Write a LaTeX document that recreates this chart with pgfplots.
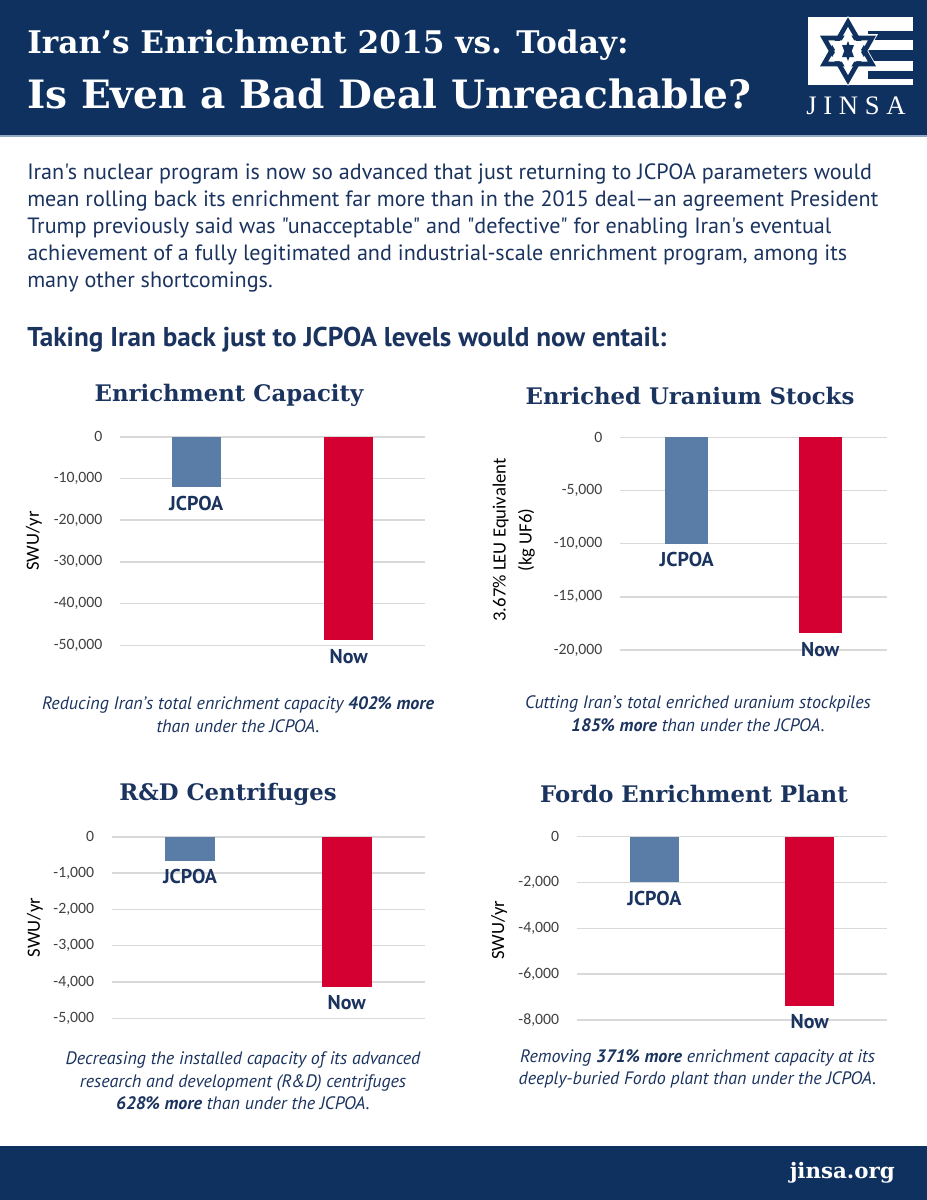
\documentclass[border=0pt]{standalone}
\usepackage{fontspec}
\setmainfont{PT Sans}
\newfontfamily\plainfont[Ligatures=TeXOff]{PT Sans}
\newfontfamily\slab{DejaVu Serif}
\newfontfamily\carlito{Carlito}
\newfontfamily\logofont[LetterSpace=25]{Liberation Serif}
\usepackage{pgfplots}
\pgfplotsset{compat=1.18}

\definecolor{navy}{HTML}{0F3160}
\definecolor{lineblue}{HTML}{8FA8C8}
\definecolor{textnavy}{HTML}{1B335F}
\definecolor{jblue}{HTML}{5A7DA8}
\definecolor{jred}{HTML}{D50032}
\definecolor{gridgray}{HTML}{D9D9D9}
\definecolor{ticktext}{HTML}{404040}

\pgfplotsset{
  jchart/.style={
    scale only axis,
    anchor=south west,
    ybar, bar shift=0pt,
    clip=false,
    xmin=-0.5, xmax=1.5, ymax=0,
    xtick=\empty,
    axis line style={draw=none},
    major tick length=0pt,
    ymajorgrids,
    grid style={gridgray, line width=1.2pt},
    scaled y ticks=false,
    yticklabel style={font=\carlito\fontsize{11.8}{12}\selectfont,
      text=ticktext, inner sep=0pt, anchor=east, xshift=-13pt},
    /pgf/number format/1000 sep={,},
    /pgf/number format/assume math mode=true,
    ylabel style={font=\carlito\fontsize{14}{19.5}\selectfont, text=black,
      anchor=center, align=center},
    every node near coord/.append style={font=\bfseries\fontsize{15}{17}\selectfont,
      text=textnavy, inner sep=0pt, yshift=-6.4pt},
  },
  jcpoa/.style={fill=jblue, draw=none, nodes near coords={JCPOA}},
  now/.style={fill=jred, draw=none, nodes near coords={Now}},
}

\begin{document}
\begin{tikzpicture}[x=0.75pt, y=-0.75pt]
\useasboundingbox (0,0) rectangle (927,1200);
\fill[white] (0,0) rectangle (927,1200);

% header
\fill[navy] (0,0) rectangle (927,135);
\fill[lineblue] (0,135) rectangle (927,137);
\node[anchor=base west, inner sep=0, text=white, font=\slab\bfseries\fontsize{23.4}{28}\selectfont]
  at (27,53) {Iran’s Enrichment 2015 vs. Today:};
\node[anchor=base west, inner sep=0, text=white, font=\slab\bfseries\fontsize{29.3}{34}\selectfont]
  at (27,108) {Is Even a Bad Deal Unreachable?};

% logo
\fill[white] (808,17) rectangle (913,85);
\fill[navy] (868,31) rectangle (913,40);
\fill[navy] (868,50) rectangle (913,61);
\fill[navy] (868,71) rectangle (913,79);
\fill[white] (848,16) -- (878,68) -- (818,68) -- cycle;
\fill[white] (848,86) -- (878,34) -- (818,34) -- cycle;
\draw[navy, line width=3.5pt, line join=miter] (848,22) -- (872,64) -- (824,64) -- cycle;
\draw[navy, line width=3.5pt, line join=miter] (848,80) -- (872,38) -- (824,38) -- cycle;
\fill[white] (848,30) -- (866,61) -- (830,61) -- cycle;
\fill[white] (848,72) -- (866,41) -- (830,41) -- cycle;
\fill[navy] (848,41) -- (854,57) -- (842,57) -- cycle;
\fill[navy] (848,61) -- (854,45) -- (842,45) -- cycle;
\node[anchor=base west, inner sep=0, text=white, font=\logofont\fontsize{20}{22}\selectfont]
  at (806,114) {JINSA};

% intro
\begin{scope}[every node/.style={anchor=base west, inner sep=0, text=textnavy,
    font=\plainfont\fontsize{16.6}{20}\selectfont}]
\node at (27,179) {Iran's nuclear program is now so advanced that just returning to JCPOA parameters would};
\node at (27,206) {mean rolling back its enrichment far more than in the 2015 deal—an agreement President};
\node at (27,233) {Trump previously said was "unacceptable" and "defective" for enabling Iran's eventual};
\node at (27,260) {achievement of a fully legitimated and industrial-scale enrichment program, among its};
\node at (27,287) {many other shortcomings.};
\end{scope}
\node[anchor=base west, inner sep=0, text=textnavy, font=\bfseries\fontsize{20.4}{24}\selectfont]
  at (27,346) {Taking Iran back just to JCPOA levels would now entail:};

% chart titles
\begin{scope}[every node/.style={inner sep=0, text=textnavy,
    font=\slab\bfseries\fontsize{17.1}{20}\selectfont}]
\node at (229,395) {Enrichment Capacity};
\node at (690,396) {Enriched Uranium Stocks};
\node at (228,794) {R\&D Centrifuges};
\node at (694,794) {Fordo Enrichment Plant};
\end{scope}

% captions
\begin{scope}[every node/.style={inner sep=0, text=textnavy, align=center,
    font=\itshape\fontsize{13.5}{17}\selectfont}]
\node at (238,714.5) {Reducing Iran’s total enrichment capacity \textbf{402\% more}\\than under the JCPOA.};
\node at (698,714) {Cutting Iran’s total enriched uranium stockpiles\\\textbf{185\% more} than under the JCPOA.};
\node at (243,1081) {Decreasing the installed capacity of its advanced\\research and development (R\&D) centrifuges\\\textbf{628\% more} than under the JCPOA.};
\node at (697.5,1069) {Removing \textbf{371\% more} enrichment capacity at its\\deeply-buried Fordo plant than under the JCPOA.};
\end{scope}

% footer
\fill[navy] (0,1146) rectangle (927,1200);
\node[anchor=base east, inner sep=0, text=white, font=\slab\bfseries\fontsize{16}{20}\selectfont]
  at (895,1178) {jinsa.org};

% charts (positions in pt: 1px = 0.75pt)
\begin{axis}[jchart, at={(90pt,-483.975pt)}, width=228.75pt, height=156.45pt,
    ymin=-50000, ytick={-50000,-40000,...,0}, bar width=36.45pt,
    ylabel={SWU/yr}, ylabel style={at={(axis description cs:-0.282,0.5)}}]
  \addplot[jcpoa] coordinates {(0,-12140)};
  \addplot[now] coordinates {(1,-48800)};
\end{axis}

\begin{axis}[jchart, at={(465pt,-487.5pt)}, width=200.25pt, height=159.5pt,
    ymin=-20000, ytick={-20000,-15000,...,0}, bar width=32pt,
    ylabel={3.67\% LEU Equivalent\\(kg UF6)}, ylabel style={at={(axis description cs:-0.398,0.517)}}]
  \addplot[jcpoa] coordinates {(0,-10000)};
  \addplot[now] coordinates {(1,-18430)};
\end{axis}

\begin{axis}[jchart, at={(83.775pt,-763.725pt)}, width=235pt, height=136.2pt,
    ymin=-5000, ytick={-5000,-4000,...,0}, bar width=37.5pt,
    ylabel={SWU/yr}, ylabel style={at={(axis description cs:-0.245,0.5)}}]
  \addplot[jcpoa] coordinates {(0,-660)};
  \addplot[now] coordinates {(1,-4140)};
\end{axis}

\begin{axis}[jchart, at={(432.525pt,-765pt)}, width=233pt, height=137.5pt,
    ymin=-8000, ytick={-8000,-6000,...,0}, bar width=36.5pt,
    ylabel={SWU/yr}, ylabel style={at={(axis description cs:-0.25,0.49)}}]
  \addplot[jcpoa] coordinates {(0,-1990)};
  \addplot[now] coordinates {(1,-7390)};
\end{axis}
\end{tikzpicture}
\end{document}
